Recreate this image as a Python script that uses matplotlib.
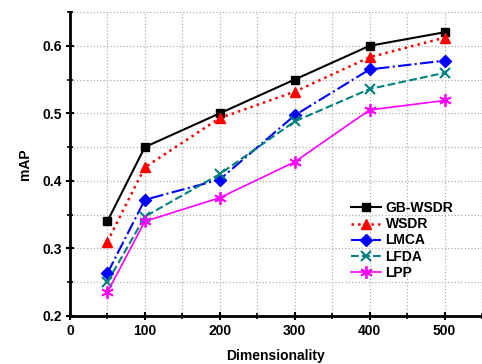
import matplotlib
matplotlib.use("Agg")
import matplotlib.pyplot as plt
from matplotlib.ticker import MultipleLocator

plt.rcParams['font.family'] = ['Liberation Sans', 'DejaVu Sans']
plt.rcParams['font.weight'] = 'bold'

dims = [50, 100, 200, 300, 400, 500]
gb_wsdr = [0.340, 0.450, 0.500, 0.550, 0.600, 0.620]
wsdr = [0.310, 0.420, 0.493, 0.532, 0.583, 0.612]
lmca = [0.263, 0.372, 0.402, 0.497, 0.565, 0.578]
lfda = [0.250, 0.347, 0.410, 0.488, 0.536, 0.560]
lpp = [0.235, 0.340, 0.375, 0.428, 0.505, 0.519]

fig = plt.figure(figsize=(4.82, 3.64), dpi=100)
ax = fig.add_axes([0.145, 0.132, 0.855, 0.835])

ax.plot(dims, gb_wsdr, color='black', linestyle='-', linewidth=1.5, marker='s', markersize=6, label='GB-WSDR')
ax.plot(dims, wsdr, color='red', linestyle=':', linewidth=1.8, marker='^', markersize=7, label='WSDR')
ax.plot(dims, lmca, color='blue', linestyle='-.', linewidth=1.5, marker='D', markersize=6, label='LMCA')
ax.plot(dims, lfda, color='#008080', linestyle='--', linewidth=1.5, marker='x', markersize=7, markeredgewidth=1.5, label='LFDA')
ax.plot(dims, lpp, color='magenta', linestyle='-', linewidth=1.2, marker=(6, 2, 0), markersize=9, markeredgewidth=1.3, label='LPP')

ax.set_xlim(0, 550)
ax.set_ylim(0.2, 0.65)
ax.xaxis.set_major_locator(MultipleLocator(100))
ax.xaxis.set_minor_locator(MultipleLocator(50))
ax.yaxis.set_major_locator(MultipleLocator(0.1))
ax.yaxis.set_minor_locator(MultipleLocator(0.05))

ax.grid(True, which='both', color='#b0b0b0', linestyle=':', linewidth=0.9)
ax.set_axisbelow(True)

for side in ['top', 'right']:
    ax.spines[side].set_visible(False)
for side in ['left', 'bottom']:
    ax.spines[side].set_linewidth(2)

ax.tick_params(which='major', direction='inout', length=6, width=1.5, labelsize=10, pad=3)
ax.tick_params(which='minor', direction='inout', length=4, width=1.2)

ax.set_xlabel('Dimensionality', fontsize=10, fontweight='bold', labelpad=8)
ax.set_ylabel('mAP', fontsize=10, fontweight='bold', labelpad=7)

leg = ax.legend(loc='upper left', bbox_to_anchor=(0.665, 0.40), frameon=False, fontsize=10,
                handlelength=2.2, handletextpad=0.3, labelspacing=0.15, borderpad=0)

fig.savefig('out.png', dpi=100)
